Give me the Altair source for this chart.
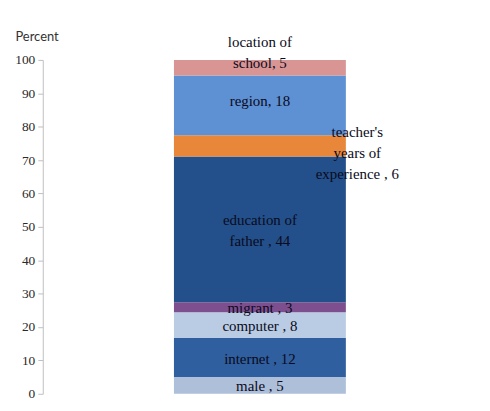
import altair as alt
import pandas as pd

factors = ["male", "internet", "computer", "migrant", "education of father",
           "teacher's years of experience", "region", "location of school"]
shares = [5, 11.7, 7.7, 3, 43.7, 6.3, 17.9, 4.7]
labels = ["male  , 5", "internet  , 12", "computer  , 8", "migrant  , 3",
          "education of\nfather  , 44", "teacher's\nyears of\nexperience  , 6",
          "region, 18", "location of\nschool, 5"]
colors = ["#aebfd9", "#2f5f9e", "#b9cce4", "#7e4f8f", "#23508a",
          "#e8863a", "#5e90d4", "#d99594"]
y_ticks = [0, 10, 20, 30, 40, 50, 60, 70, 80, 90, 100]

df = pd.DataFrame({
    "grp": ["all"] * len(factors),
    "idx": list(range(len(factors))),
    "factor": factors,
    "share": shares,
    "label": labels,
})

base = alt.Chart(df).transform_stack(
    stack="share", groupby=["grp"], as_=["lo", "hi"],
    sort=[alt.SortField("idx", order="ascending")]
).transform_calculate(mid="(datum.lo + datum.hi) / 2")

xenc = alt.X("grp:N", axis=None, scale=alt.Scale(paddingOuter=0.76, paddingInner=0))
yscale = alt.Scale(domain=[0, 100], nice=False)
yaxis = alt.Axis(values=y_ticks, title="Percent", titleAngle=0,
                 titleX=-28, titleY=-24, titleAlign="left",
                 titleBaseline="middle", titleFont="Lato",
                 titleFontSize=13, titleFontWeight="normal",
                 titleColor="#333333", labelFont="Liberation Serif",
                 labelFontSize=13.5, labelColor="#2a2a2a",
                 labelOverlap=False,
                 domainColor="#bfbfbf", tickColor="#bfbfbf",
                 tickSize=5, grid=False, labelPadding=3)

bars = base.mark_bar(size=173).encode(
    x=xenc,
    y=alt.Y("lo:Q", scale=yscale, axis=yaxis),
    y2="hi:Q",
    color=alt.Color("factor:N", scale=alt.Scale(domain=factors, range=colors),
                    legend=None),
)

txt_props = dict(font="Liberation Serif", fontSize=15, color="#0a0a20",
                 lineBreak="\n", lineHeight=21, align="center", baseline="middle")

yenc = alt.Y("mid:Q", scale=yscale, axis=yaxis)


def label_layer(cond, dx=0, dy=0):
    return base.transform_filter(cond).mark_text(dx=dx, dy=dy, **txt_props).encode(
        x=xenc, y=yenc, text="label:N")


small = label_layer("datum.idx <= 3", dy=1)
edu = label_layer("datum.idx == 4", dy=-9)
teach = label_layer("datum.idx == 5", dx=98, dy=-14)
region = label_layer("datum.idx == 6", dy=-4)
loc = label_layer("datum.idx == 7", dy=-26)

chart = alt.layer(bars, small, edu, teach, region, loc).properties(
    width=437, height=336,
    background="white",
    autosize=alt.AutoSizeParams(type="none"),
    padding={"left": 35, "top": 51, "right": 5, "bottom": 5},
).configure_view(stroke=None)

chart.save("out.html", embed_options={"renderer": "svg", "actions": False})
